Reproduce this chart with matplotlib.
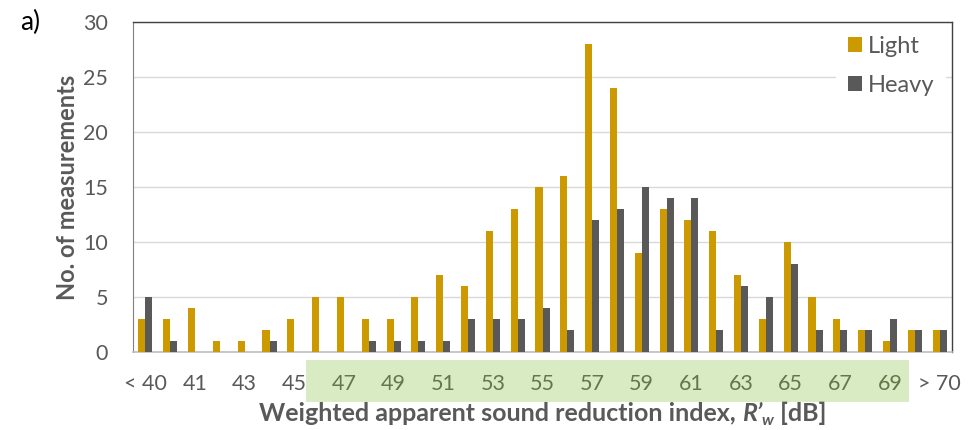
import numpy as np
import matplotlib
matplotlib.use('Agg')
from matplotlib import pyplot as plt
from matplotlib.patches import Rectangle
import matplotlib.transforms as mtransforms

plt.rcParams['font.family'] = ['Lato', 'DejaVu Sans']

# sound reduction index classes, R'w [dB]
categories = ['< 40'] + [str(v) for v in range(40, 71)] + ['> 70']
light = [3, 3, 4, 1, 1, 2, 3, 5, 5, 3, 3, 5, 7, 6, 11, 13, 15, 16,
         28, 24, 9, 13, 12, 11, 7, 3, 10, 5, 3, 2, 1, 2, 2]
heavy = [5, 1, 0, 0, 0, 1, 0, 0, 0, 1, 1, 1, 1, 3, 3, 3, 4, 2,
         12, 13, 15, 14, 14, 2, 6, 5, 8, 2, 2, 2, 3, 2, 2]
# labels printed under the axis (every second class)
shown = ['< 40', '41', '43', '45', '47', '49', '51', '53', '55', '57',
         '59', '61', '63', '65', '67', '69', '> 70']
green_labels = ['47', '49', '51', '53', '55', '57', '59', '61', '63',
                '65', '67', '69']

col_light = '#CC9900'
col_heavy = '#595959'
txt = '#595959'

W, H = 977, 430
fig = plt.figure(figsize=(W/100, H/100), dpi=100)
ax = fig.add_axes([133/W, 1-352/H, (952-133)/W, 330/H])

x = np.arange(len(categories))
w = 0.285
ax.bar(x - w/2, light, w, color=col_light, label='Light', zorder=3)
ax.bar(x + w/2, heavy, w, color=col_heavy, label='Heavy', zorder=3)

ax.set_xlim(-0.5, len(categories) - 0.5)
ax.set_ylim(0, 30)
ax.set_yticks(np.arange(0, 31, 5))
ax.yaxis.grid(True, color='#d9d9d9', lw=1.0, zorder=0)
ax.set_axisbelow(True)

ticks = [categories.index(s) for s in shown]
ax.set_xticks(ticks)
ax.set_xticklabels(shown)
ax.tick_params(axis='both', length=0, labelsize=15.5, labelcolor=txt)
ax.tick_params(axis='x', pad=16)
ax.tick_params(axis='y', pad=18)
for lab in ax.get_xticklabels():
    if lab.get_text() in green_labels:
        lab.set_color('#62784a')

for s in ['top', 'right']:
    ax.spines[s].set_color('#404040')
    ax.spines[s].set_linewidth(1.0)
ax.spines['left'].set_color('#808080')
ax.spines['bottom'].set_color('#bfbfbf')
ax.spines['bottom'].set_linewidth(1.2)

# shaded band behind the middle tick labels
trans = mtransforms.blended_transform_factory(ax.transData, ax.transAxes)
band = Rectangle((6.48, -0.152), 30.75 - 6.48, 0.128, transform=trans,
                 facecolor='#d8ebc2', edgecolor='none', clip_on=False,
                 zorder=0)
ax.add_patch(band)

ax.set_ylabel('No. of measurements', fontsize=17, fontweight='bold',
              color=txt, labelpad=3)

# x label built from pieces so R' can be italic with a subscript w
parts = [("Weighted apparent sound reduction index, ", 'normal', 18, 0),
         ("R\u2019", 'italic', 18, 0),
         ("w", 'italic', 11.5, -4),
         (" [dB]", 'normal', 18, 0)]
fig.canvas.draw()
r = fig.canvas.get_renderer()
objs = []
for s, st, fs, dy in parts:
    t = fig.text(0, 0, s, fontsize=fs, fontweight='bold', style=st,
                 color=txt, va='baseline', ha='left')
    objs.append((t, dy))
widths = [t.get_window_extent(r).width for t, _ in objs]
x0 = (133 + 952) / 2 - sum(widths) / 2
base = H - 421
for (t, dy), wd in zip(objs, widths):
    t.set_position((x0 / W, (base + dy) / H))
    x0 += wd

leg = ax.legend(loc='upper left', frameon=True, fontsize=17,
                handlelength=0.6, handleheight=0.6, handletextpad=0.25,
                labelspacing=0.75, borderaxespad=0.0, borderpad=0.5,
                edgecolor='none', facecolor='white', framealpha=1.0,
                bbox_to_anchor=((836 - 133) / 819, 1 - (24 - 22) / 330))
for t in leg.get_texts():
    t.set_color(txt)

fig.text(20/W, 1-22/H, 'a)', fontsize=19, color='black',
         va='center', ha='left')

fig.savefig('out.png', dpi=100)
